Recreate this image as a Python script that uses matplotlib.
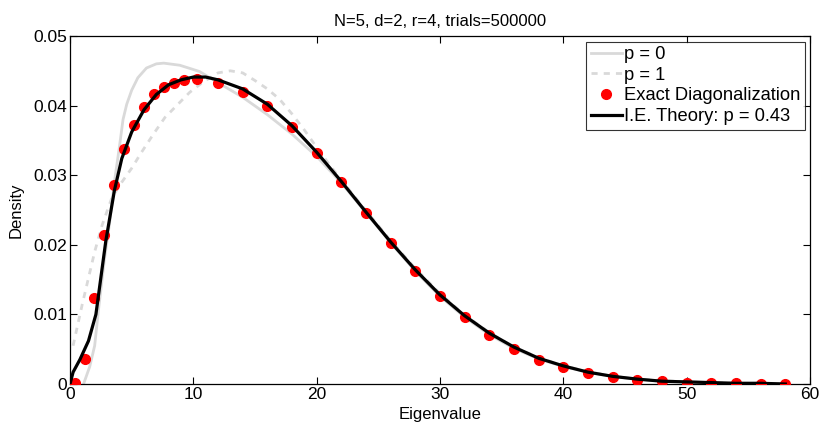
import matplotlib
matplotlib.use("Agg")
import matplotlib.pyplot as plt

plt.rcParams['font.family'] = ['Liberation Sans', 'DejaVu Sans']

# p = 0 curve
p0_x = [1.1, 1.6, 2.0, 2.3, 2.8, 3.2, 3.6, 4.0, 4.3, 4.6, 5.0, 5.5, 6.2, 7.0, 7.6, 8.9,
        10.5, 12, 14, 16, 18, 20, 22, 24, 26, 28, 30, 32, 34, 36, 38, 40, 42, 44, 46,
        48, 50, 52, 54, 56, 58]
p0_y = [0.0, 0.0025, 0.0055, 0.0105, 0.018, 0.023, 0.029, 0.034, 0.038, 0.0402, 0.0422,
        0.0440, 0.0454, 0.0460, 0.0461, 0.0458, 0.0449, 0.0433, 0.0412, 0.0387, 0.0359,
        0.0327, 0.0289, 0.0246, 0.0203, 0.0162, 0.0126, 0.0096, 0.0071, 0.0051, 0.0036,
        0.0025, 0.0017, 0.0011, 0.0007, 0.0004, 0.0003, 0.0002, 0.0001, 0.0001, 0.0]

# p = 1 curve
p1_x = [0.25, 1.0, 2.0, 2.6, 3.4, 4.2, 5.0, 5.8, 6.8, 7.7, 8.7, 9.7, 10.8, 12, 13, 14,
        15, 16, 17, 18, 19, 20, 21, 22, 24, 26, 28, 30, 32, 34, 36, 38, 40, 42, 44, 46,
        48, 50, 52, 54, 56, 58]
p1_y = [0.0055, 0.0115, 0.019, 0.0228, 0.0268, 0.0290, 0.0310, 0.0333, 0.0360, 0.0383,
        0.0401, 0.0419, 0.0434, 0.0447, 0.0450, 0.0447, 0.0436, 0.0424, 0.0409, 0.0388,
        0.0365, 0.0340, 0.0316, 0.0293, 0.0249, 0.0206, 0.0166, 0.0130, 0.0099, 0.0074,
        0.0053, 0.0038, 0.0026, 0.0018, 0.0011, 0.0007, 0.0005, 0.0003, 0.0002, 0.0001,
        0.0001, 0.0]

# Exact diagonalization points
ed_x = [0.41, 1.22, 1.97, 2.76, 3.57, 4.40, 5.19, 6.0, 6.84, 7.62, 8.43, 9.25, 10.3,
        12, 14, 16, 18, 20, 22, 24, 26, 28, 30, 32, 34, 36, 38, 40, 42, 44, 46, 48, 50,
        52, 54, 56, 58]
ed_y = [0.0002, 0.0036, 0.0123, 0.0214, 0.0286, 0.0337, 0.0372, 0.0398, 0.0416, 0.0427,
        0.0433, 0.0437, 0.0438, 0.0433, 0.0420, 0.0400, 0.0369, 0.0332, 0.0290, 0.0245,
        0.0202, 0.0162, 0.0126, 0.0096, 0.0071, 0.0051, 0.0035, 0.0024, 0.0016, 0.0010,
        0.0006, 0.0004, 0.0002, 0.0001, 0.0001, 0.0, 0.0]

# I.E. theory curve
ie_x = [0, 0.25, 0.8, 1.5, 2.1, 2.9, 3.6, 4.2, 5, 6, 7, 8, 9, 10, 11, 12, 14, 16, 18, 20,
        22, 24, 26, 28, 30, 32, 34, 36, 38, 40, 42, 44, 46, 48, 50, 52, 54, 56, 58]
ie_y = [0.0, 0.0017, 0.0035, 0.0062, 0.0100, 0.0205, 0.0278, 0.0324, 0.0362, 0.0394,
        0.0416, 0.0430, 0.0437, 0.0441, 0.0441, 0.0437, 0.0424, 0.0402, 0.0371, 0.0333,
        0.0291, 0.0247, 0.0204, 0.0164, 0.0128, 0.0098, 0.0073, 0.0053, 0.0037, 0.0026,
        0.0017, 0.0011, 0.0007, 0.0004, 0.0003, 0.0002, 0.0001, 0.0001, 0.0]

x_ticks = [0, 10, 20, 30, 40, 50, 60]
y_ticks = [0, 0.01, 0.02, 0.03, 0.04, 0.05]
y_tick_labels = ['0', '0.01', '0.02', '0.03', '0.04', '0.05']

fig = plt.figure(figsize=(8.23, 4.26), dpi=100)
ax = fig.add_axes([70/823, 1-384/426, 740/823, 348/426])

gray = '#d9d9d9'
ax.plot(p0_x, p0_y, color=gray, lw=2.0, label='p = 0', zorder=2)
ax.plot(p1_x, p1_y, color=gray, lw=2.0, ls=(0, (2.2, 2.2)), label='p = 1', zorder=2)
ax.plot(ed_x, ed_y, 'o', color='red', ms=7, mec='red', label='Exact Diagonalization', zorder=3)
ax.plot(ie_x, ie_y, color='black', lw=2.3, label='I.E. Theory: p = 0.43', zorder=4)

ax.set_xlim(0, 60)
ax.set_ylim(0, 0.05)
ax.set_xticks(x_ticks)
ax.set_xticklabels([str(t) for t in x_ticks])
ax.set_yticks(y_ticks)
ax.set_yticklabels(y_tick_labels)
ax.tick_params(direction='in', top=True, right=True, length=5, width=0.8,
               labelsize=12.5, pad=2)
for s in ax.spines.values():
    s.set_linewidth(0.9)

ax.set_xlabel('Eigenvalue', fontsize=12, labelpad=4)
ax.set_ylabel('Density', fontsize=12, labelpad=7)
ax.set_title('N=5, d=2, r=4, trials=500000', fontsize=12, pad=7)

leg = ax.legend(loc='upper right', fontsize=13.2, frameon=True, fancybox=False,
                edgecolor='black', borderpad=0.25, labelspacing=0.2,
                handlelength=1.7, handletextpad=0.1, borderaxespad=0.3, numpoints=1)
leg.get_frame().set_linewidth(0.8)

fig.savefig('out.png', dpi=100)
